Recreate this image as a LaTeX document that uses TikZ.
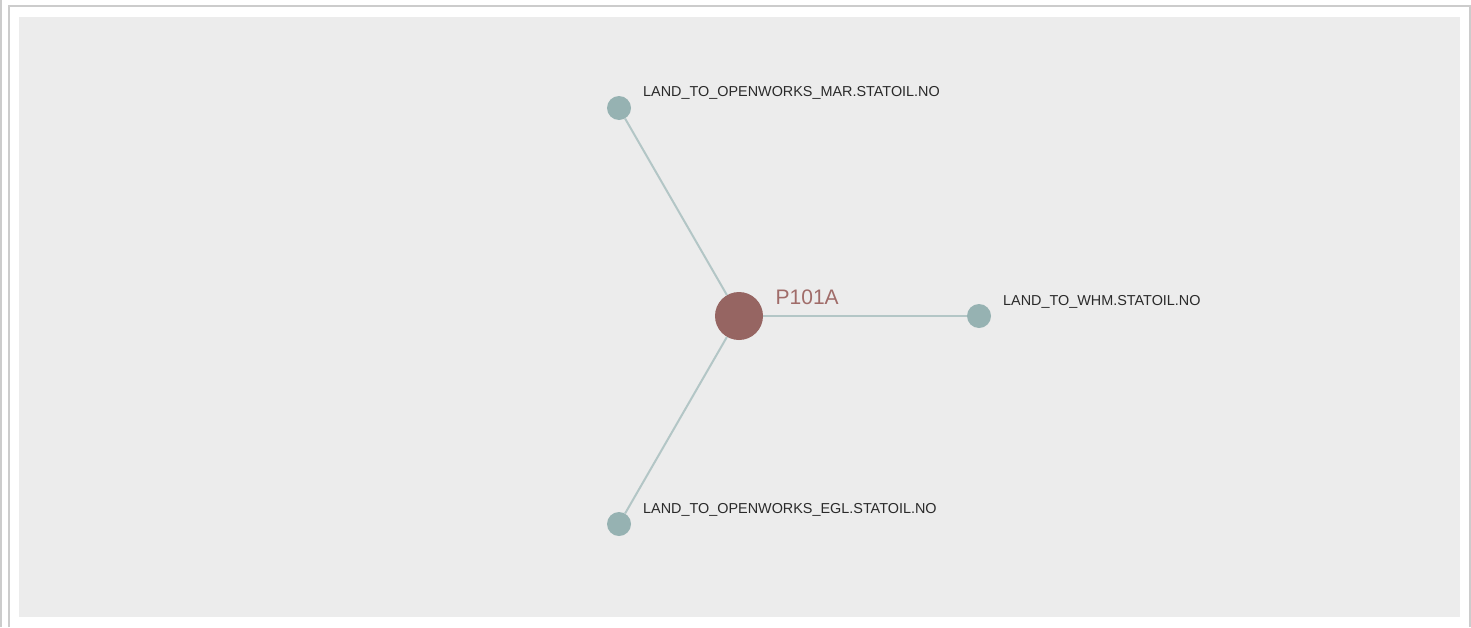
\documentclass[tikz,border=0pt]{standalone}
\usepackage{fontspec}
\setmainfont{Liberation Sans}
\definecolor{framegray}{HTML}{CCCCCC}
\definecolor{panel}{HTML}{ECECEC}
\definecolor{hubfill}{HTML}{966562}
\definecolor{hubtext}{HTML}{A06C69}
\definecolor{leaffill}{HTML}{96B2B2}
\definecolor{edgecol}{HTML}{B3C6C6}
\definecolor{labtext}{HTML}{2A2A2A}
\tikzset{
  hub/.style={circle,fill=hubfill,draw=none,minimum size=48pt,inner sep=0pt},
  leaf/.style={circle,fill=leaffill,draw=none,minimum size=24pt,inner sep=0pt},
  link/.style={draw=edgecol,line width=2pt},
  leaflab/.style={anchor=base west,inner sep=0pt,text=labtext,font=\fontsize{14.4}{17}\selectfont},
  hublab/.style={anchor=base west,inner sep=0pt,text=hubtext,font=\fontsize{21}{25}\selectfont},
  frameline/.style={draw=framegray,line width=2pt}
}
\begin{document}
\begin{tikzpicture}[x=1pt,y=-1pt]
\useasboundingbox (0,0) rectangle (1471,627);
\fill[white] (0,0) rectangle (1471,627);
\draw[frameline] (1,0) -- (1,627);
\draw[frameline] (9,627) -- (9,6) -- (1470,6) -- (1470,627);
\fill[panel] (19,17) rectangle (1460,617);
\node[hub] (c) at (739,316) {};
\node[leaf] (mar) at (619,108) {};
\node[leaf] (whm) at (979,316) {};
\node[leaf] (egl) at (619,524) {};
\draw[link] (c) -- (mar);
\draw[link] (c) -- (whm);
\draw[link] (c) -- (egl);
\node[hublab] (hl) at (775.5,304) {P101A};
\node[leaflab] (ml) at (643,96.5) {LAND\_TO\_OPENWORKS\_MAR.STATOIL.NO};
\node[leaflab] (wl) at (1003,305) {LAND\_TO\_WHM.STATOIL.NO};
\node[leaflab] (el) at (643,513) {LAND\_TO\_OPENWORKS\_EGL.STATOIL.NO};
\end{tikzpicture}
\end{document}
